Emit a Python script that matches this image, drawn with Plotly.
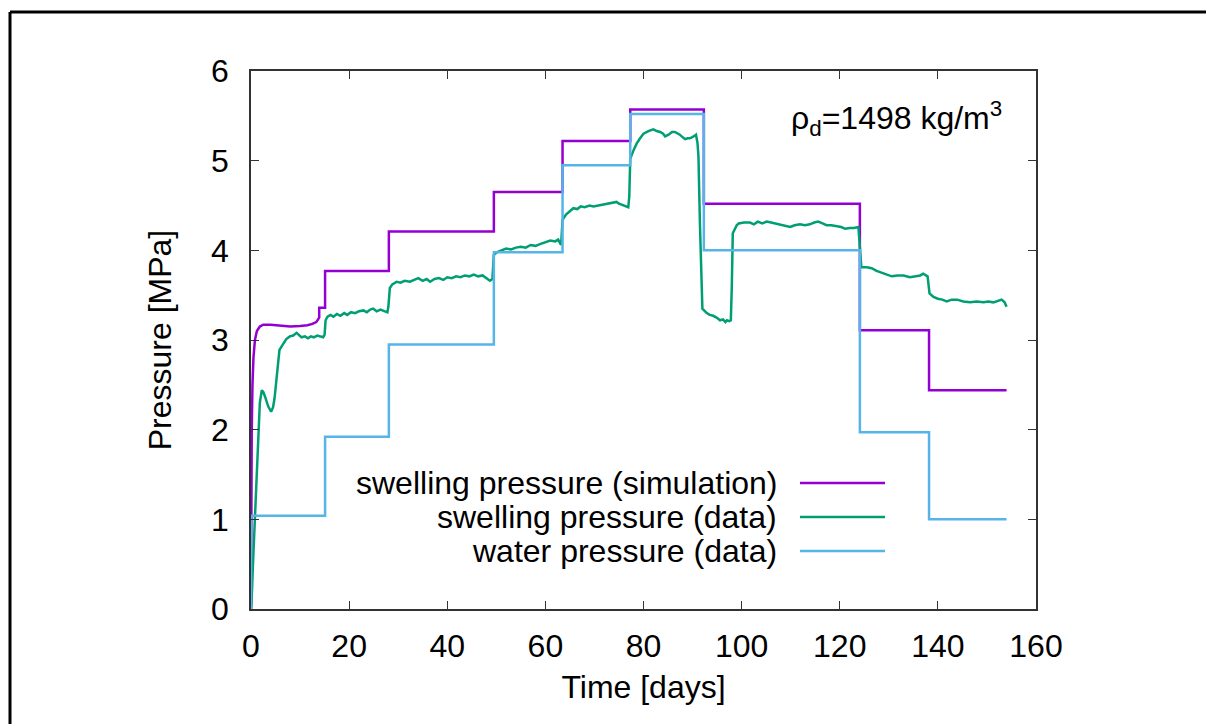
import plotly.graph_objects as go

# ---------------- data ----------------
sim_t = [0, 0.05, 0.15, 0.3, 0.5, 0.8, 1.2, 1.8, 2.5, 4, 6, 8, 10, 11.5, 12.5, 13.3, 13.9,
         13.9, 15.1, 15.1, 28.1, 28.1, 49.5, 49.5, 63.5, 63.5, 77.3, 77.3, 92.3, 92.3,
         124.1, 124.1, 138.2, 138.2, 154]
sim_p = [0, 1.2, 2.0, 2.5, 2.8, 3.0, 3.1, 3.15, 3.17, 3.17, 3.16, 3.15, 3.155, 3.165, 3.18, 3.2, 3.25,
         3.36, 3.36, 3.77, 3.77, 4.21, 4.21, 4.65, 4.65, 5.22, 5.22, 5.57, 5.57, 4.52,
         4.52, 3.11, 3.11, 2.44, 2.44]

data_t = [0.0, 0.1, 0.4, 0.8, 1.1, 1.5, 1.8, 2.2, 2.5, 2.85, 3.5, 4.1, 4.5, 4.8, 5.2, 5.5, 5.8,
          6.6, 7.2, 7.9, 8.6, 9.3, 9.8, 10.3, 11.0, 11.6, 12.2, 12.8, 13.5, 14.1, 14.7, 15.0,
          15.2, 15.6, 16.2, 16.8, 17.5, 18.2, 19.0, 19.6, 20.4, 21.2, 22.0, 22.9, 23.6, 24.3,
          24.9, 25.6, 26.4, 27.3, 27.8, 28.0, 28.3, 28.8, 29.7, 30.5, 31.3, 32.4, 33.2, 34.1,
          35.0, 35.8, 36.5, 37.4, 38.3, 39.2, 40.0, 40.9, 41.8, 42.7, 43.6, 44.5, 45.4, 46.3,
          47.2, 48.0, 48.7, 49.2, 49.5, 50.2, 51.0, 52.0, 53.0, 54.0, 55.0, 56.0, 57.0, 58.0,
          58.9, 60.0, 61.0, 62.0, 62.6, 63.2, 63.5, 64.2, 65.0, 65.7, 66.5, 67.2, 68.0, 69.0,
          69.8, 70.7, 71.5, 72.5, 73.5, 74.5, 75.0, 75.5, 76.3, 76.9, 77.1, 77.3, 78.0, 78.6,
          79.3, 80.0, 81.0, 82.0, 82.7, 83.4, 84.0, 84.4, 85.1, 85.8, 86.4, 87.0, 87.4, 88.0,
          88.5, 89.0, 89.5, 90.2, 90.7, 91.0, 91.2, 91.5, 91.8, 92.0, 92.9, 93.5, 94.2, 94.9,
          95.6, 96.2, 96.7, 97.0, 97.5, 97.8, 98.0, 98.2, 99.0, 99.4, 100.5, 101.7, 102.5,
          103.3, 104.2, 105.1, 106.0, 106.9, 107.8, 108.8, 109.9, 110.8, 111.9, 112.9, 113.9,
          114.8, 115.6, 116.5, 117.3, 118.3, 119.4, 120.3, 121.1, 122.0, 122.9, 123.8, 124.1,
          124.4, 125.5, 126.5, 127.5, 128.6, 129.6, 130.6, 131.8, 133.0, 134.3, 135.7, 136.4,
          137.0, 137.6, 137.9, 138.3, 139.1, 140.0, 140.9, 141.8, 142.8, 143.9, 145.2, 146.6,
          147.9, 149.3, 150.3, 151.3, 152.2, 153.0, 153.6, 154.0]
data_p = [0.0, 0.05, 0.5, 1.03, 1.5, 1.96, 2.3, 2.44, 2.42, 2.37, 2.26, 2.2, 2.25, 2.35, 2.59, 2.78, 2.89,
          2.96, 3.01, 3.04, 3.05, 3.08, 3.06, 3.03, 3.04, 3.02, 3.04, 3.03, 3.05, 3.04, 3.03, 3.06,
          3.22, 3.26, 3.28, 3.26, 3.29, 3.27, 3.30, 3.28, 3.31, 3.30, 3.32, 3.33, 3.31, 3.34,
          3.35, 3.32, 3.34, 3.32, 3.31, 3.37, 3.58, 3.62, 3.65, 3.64, 3.66, 3.65, 3.67, 3.69,
          3.66, 3.68, 3.65, 3.68, 3.69, 3.67, 3.70, 3.69, 3.71, 3.70, 3.72, 3.71, 3.73, 3.71,
          3.72, 3.69, 3.66, 3.68, 3.95, 3.98, 4.00, 4.02, 4.01, 4.03, 4.04, 4.03, 4.06, 4.05,
          4.07, 4.09, 4.11, 4.10, 4.12, 4.06, 4.34, 4.40, 4.44, 4.47, 4.46, 4.49, 4.48, 4.50,
          4.49, 4.50, 4.51, 4.52, 4.53, 4.54, 4.52, 4.51, 4.50, 4.48, 4.60, 5.02, 5.12, 5.19,
          5.25, 5.30, 5.33, 5.35, 5.33, 5.32, 5.30, 5.27, 5.29, 5.32, 5.32, 5.30, 5.29, 5.26,
          5.24, 5.25, 5.25, 5.27, 5.29, 5.20, 5.05, 4.30, 3.60, 3.35, 3.30, 3.28, 3.27, 3.25,
          3.22, 3.23, 3.20, 3.22, 3.21, 3.22, 3.60, 4.19, 4.28, 4.30, 4.31, 4.31, 4.29,
          4.32, 4.30, 4.32, 4.31, 4.30, 4.29, 4.28, 4.26, 4.28, 4.29, 4.28, 4.29,
          4.31, 4.32, 4.30, 4.28, 4.28, 4.27, 4.26, 4.24, 4.25, 4.25, 4.26, 4.04,
          3.81, 3.81, 3.80, 3.77, 3.75, 3.73, 3.71, 3.72, 3.72, 3.70, 3.71, 3.72,
          3.74, 3.72, 3.71, 3.52, 3.48, 3.46, 3.45, 3.43, 3.45, 3.45, 3.43, 3.42,
          3.43, 3.42, 3.43, 3.42, 3.44, 3.45, 3.42, 3.37]

water_t = [0, 0, 15.1, 28.1, 49.5, 63.5, 77.3, 92.3, 124.1, 138.2, 154]
water_p = [0, 1.04, 1.92, 2.95, 3.98, 4.95, 5.52, 4.00, 1.97, 1.00, 1.00]

series_names = ["swelling pressure (simulation)", "swelling pressure (data)", "water pressure (data)"]
colors = ["#9400D3", "#009E73", "#56B4E9"]

x_ticks = [0, 20, 40, 60, 80, 100, 120, 140, 160]
y_ticks = [0, 1, 2, 3, 4, 5, 6]

FONT = "Liberation Sans, Arial, sans-serif"
FS = 32

fig = go.Figure()
fig.add_trace(go.Scatter(x=sim_t, y=sim_p, mode="lines", name=series_names[0],
                         line=dict(color=colors[0], width=2.5), showlegend=False))
fig.add_trace(go.Scatter(x=data_t, y=data_p, mode="lines", name=series_names[1],
                         line=dict(color=colors[1], width=2.5), showlegend=False))
fig.add_trace(go.Scatter(x=water_t, y=water_p, mode="lines", name=series_names[2],
                         line=dict(color=colors[2], width=2.5, shape="hv"), showlegend=False))

# plot area geometry (px)
L, R, T, B = 251, 1036, 71, 609
W, H = R - L, B - T
def px(x):
    return (x - L) / W
def py(y):
    return (B - y) / H

shapes = []
annotations = []
# gnuplot-like key: text right-aligned, sample line on the right
rows = [483, 517, 551]
for name, col, ry in zip(series_names, colors, rows):
    annotations.append(dict(x=px(779), y=py(ry), xref="paper", yref="paper", text=name,
                            showarrow=False, xanchor="right", yanchor="middle",
                            font=dict(family=FONT, size=FS, color="black")))
    shapes.append(dict(type="line", xref="paper", yref="paper", x0=px(800), x1=px(885),
                       y0=py(ry), y1=py(ry), line=dict(color=col, width=2.5)))

annotations.append(dict(x=px(1004), y=py(118), xref="paper", yref="paper",
                        text="ρ<sub>d</sub>=1498 kg/m<sup>3</sup>", showarrow=False,
                        xanchor="right", yanchor="middle",
                        font=dict(family=FONT, size=FS, color="black")))

# outer frame (top and left edges)
shapes.append(dict(type="line", xref="paper", yref="paper", x0=px(10), x1=px(1206),
                   y0=py(12), y1=py(12), line=dict(color="black", width=3)))
shapes.append(dict(type="line", xref="paper", yref="paper", x0=px(10), x1=px(10),
                   y0=py(12), y1=py(724), line=dict(color="black", width=3)))

fig.update_layout(
    width=1206, height=724,
    margin=dict(l=L, r=1206 - R, t=T, b=724 - B),
    paper_bgcolor="white", plot_bgcolor="white",
    font=dict(family=FONT, size=FS, color="black"),
    shapes=shapes, annotations=annotations,
    xaxis=dict(range=[0, 160], tickvals=x_ticks, ticks="inside", ticklen=8, tickwidth=1.2,
               tickcolor="#333", showline=True, linecolor="#333", linewidth=1.5, mirror="ticks",
               showgrid=False, zeroline=False, ticklabelstandoff=8,
               title=dict(text="Time [days]", standoff=12, font=dict(size=FS))),
    yaxis=dict(range=[0, 6], tickvals=y_ticks, ticks="inside", ticklen=8, tickwidth=1.2,
               tickcolor="#333", showline=True, linecolor="#333", linewidth=1.5, mirror="ticks",
               showgrid=False, zeroline=False, ticklabelstandoff=14,
               title=dict(text="Pressure [MPa]", standoff=30, font=dict(size=FS))),
)

fig.write_html("out.html")
